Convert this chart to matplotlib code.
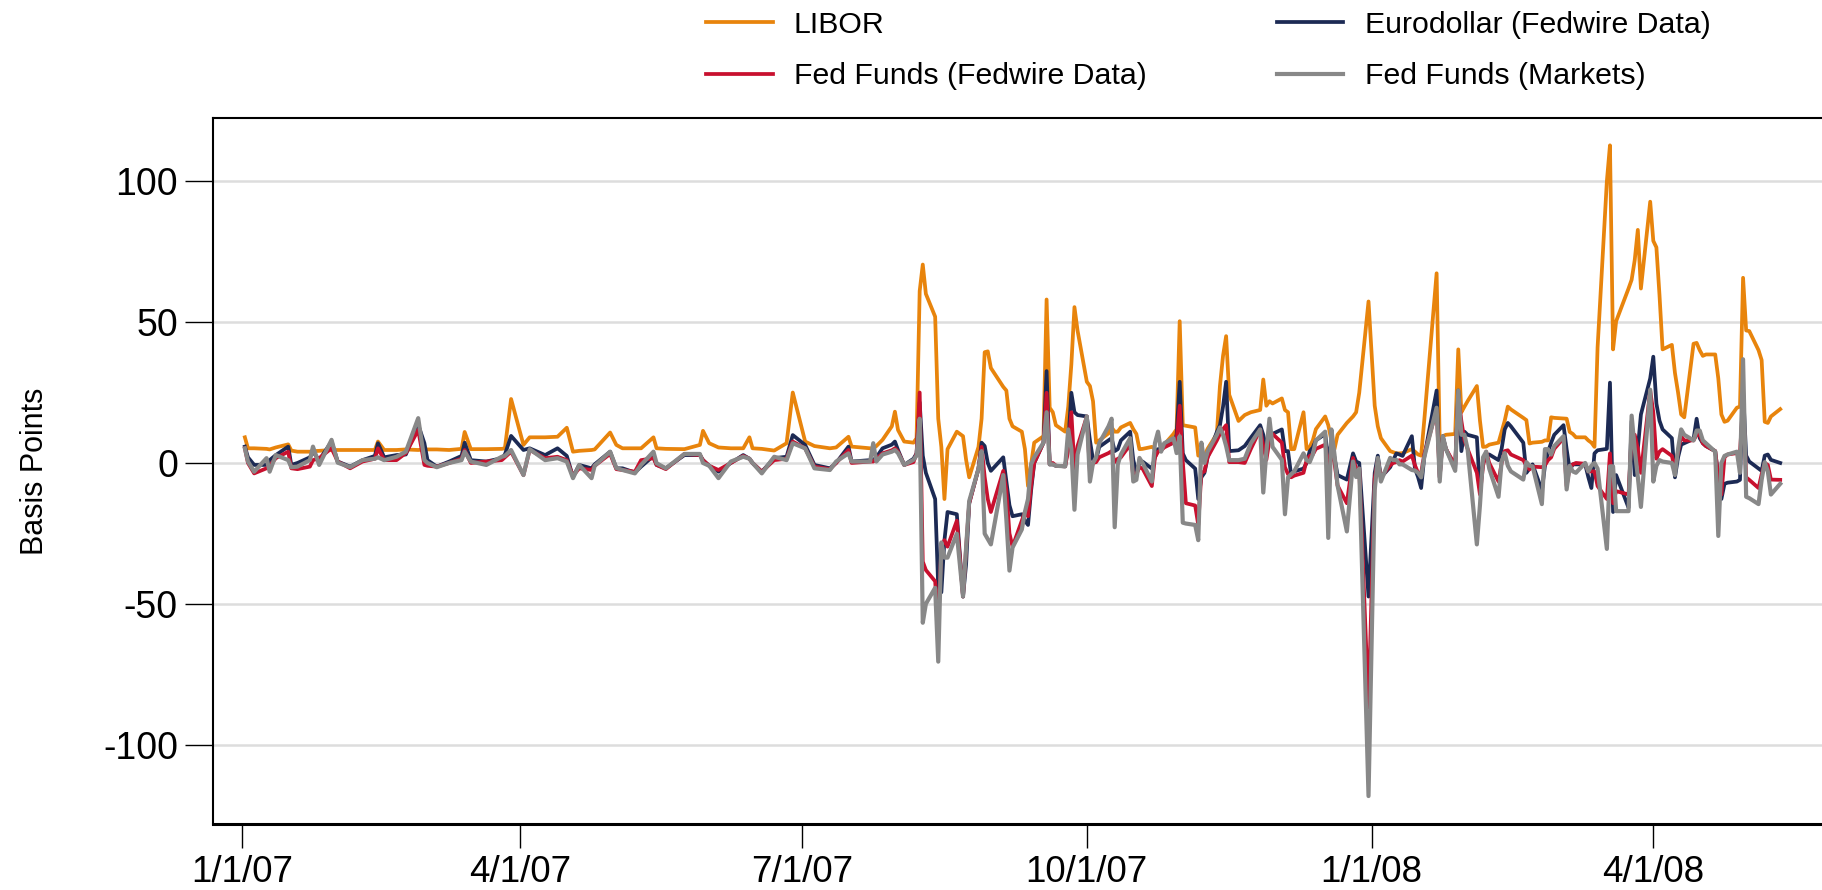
import pandas as pd
import matplotlib.pyplot as plt

plt.rcParams['font.family'] = ['Liberation Sans', 'DejaVu Sans']
plt.rcParams['axes.unicode_minus'] = False

# spreads vs. target rate, basis points
dates = [
    '2007-01-02', '2007-01-03', '2007-01-05', '2007-01-09', '2007-01-10', '2007-01-12',
    '2007-01-16', '2007-01-17', '2007-01-19', '2007-01-23', '2007-01-24', '2007-01-26',
    '2007-01-30', '2007-02-01', '2007-02-05', '2007-02-09', '2007-02-13', '2007-02-14',
    '2007-02-16', '2007-02-20', '2007-02-23', '2007-02-27', '2007-03-01', '2007-03-02',
    '2007-03-05', '2007-03-09', '2007-03-13', '2007-03-14', '2007-03-16', '2007-03-21',
    '2007-03-26', '2007-03-27', '2007-03-29', '2007-04-02', '2007-04-04', '2007-04-09',
    '2007-04-13', '2007-04-16', '2007-04-18', '2007-04-20', '2007-04-24', '2007-04-25',
    '2007-04-30', '2007-05-02', '2007-05-04', '2007-05-08', '2007-05-10', '2007-05-14',
    '2007-05-15', '2007-05-18', '2007-05-24', '2007-05-29', '2007-05-30', '2007-06-01',
    '2007-06-04', '2007-06-08', '2007-06-12', '2007-06-14', '2007-06-15', '2007-06-18',
    '2007-06-22', '2007-06-26', '2007-06-28', '2007-07-02', '2007-07-05', '2007-07-10',
    '2007-07-12', '2007-07-16', '2007-07-17', '2007-07-23', '2007-07-24', '2007-07-25',
    '2007-07-27', '2007-07-30', '2007-07-31', '2007-08-01', '2007-08-03', '2007-08-06',
    '2007-08-07', '2007-08-08', '2007-08-09', '2007-08-10', '2007-08-13', '2007-08-14',
    '2007-08-15', '2007-08-16', '2007-08-17', '2007-08-20', '2007-08-22', '2007-08-23',
    '2007-08-24', '2007-08-27', '2007-08-28', '2007-08-29', '2007-08-30', '2007-08-31',
    '2007-09-04', '2007-09-05', '2007-09-06', '2007-09-07', '2007-09-10', '2007-09-11',
    '2007-09-12', '2007-09-13', '2007-09-14', '2007-09-17', '2007-09-18', '2007-09-19',
    '2007-09-20', '2007-09-21', '2007-09-24', '2007-09-25', '2007-09-26', '2007-09-27',
    '2007-09-28', '2007-10-01', '2007-10-02', '2007-10-03', '2007-10-04', '2007-10-05',
    '2007-10-08', '2007-10-09', '2007-10-10', '2007-10-11', '2007-10-12', '2007-10-15',
    '2007-10-16', '2007-10-17', '2007-10-18', '2007-10-19', '2007-10-22', '2007-10-23',
    '2007-10-24', '2007-10-25', '2007-10-26', '2007-10-29', '2007-10-30', '2007-10-31',
    '2007-11-01', '2007-11-02', '2007-11-05', '2007-11-06', '2007-11-07', '2007-11-08',
    '2007-11-09', '2007-11-12', '2007-11-13', '2007-11-14', '2007-11-15', '2007-11-16',
    '2007-11-19', '2007-11-21', '2007-11-23', '2007-11-26', '2007-11-27', '2007-11-28',
    '2007-11-29', '2007-11-30', '2007-12-03', '2007-12-04', '2007-12-05', '2007-12-06',
    '2007-12-07', '2007-12-10', '2007-12-11', '2007-12-12', '2007-12-13', '2007-12-14',
    '2007-12-17', '2007-12-18', '2007-12-19', '2007-12-20', '2007-12-21', '2007-12-24',
    '2007-12-26', '2007-12-27', '2007-12-28', '2007-12-31', '2008-01-02', '2008-01-03',
    '2008-01-04', '2008-01-07', '2008-01-08', '2008-01-09', '2008-01-10', '2008-01-11',
    '2008-01-14', '2008-01-15', '2008-01-16', '2008-01-17', '2008-01-18', '2008-01-22',
    '2008-01-23', '2008-01-24', '2008-01-25', '2008-01-28', '2008-01-29', '2008-01-30',
    '2008-01-31', '2008-02-01', '2008-02-04', '2008-02-05', '2008-02-06', '2008-02-07',
    '2008-02-08', '2008-02-11', '2008-02-12', '2008-02-13', '2008-02-14', '2008-02-15',
    '2008-02-19', '2008-02-20', '2008-02-21', '2008-02-22', '2008-02-25', '2008-02-26',
    '2008-02-27', '2008-02-28', '2008-02-29', '2008-03-03', '2008-03-04', '2008-03-05',
    '2008-03-06', '2008-03-07', '2008-03-10', '2008-03-11', '2008-03-12', '2008-03-13',
    '2008-03-14', '2008-03-17', '2008-03-18', '2008-03-19', '2008-03-20', '2008-03-24',
    '2008-03-25', '2008-03-26', '2008-03-27', '2008-03-28', '2008-03-31', '2008-04-01',
    '2008-04-02', '2008-04-03', '2008-04-04', '2008-04-07', '2008-04-08', '2008-04-09',
    '2008-04-10', '2008-04-11', '2008-04-14', '2008-04-15', '2008-04-16', '2008-04-17',
    '2008-04-18', '2008-04-21', '2008-04-22', '2008-04-23', '2008-04-24', '2008-04-25',
    '2008-04-28', '2008-04-29', '2008-04-30', '2008-05-01', '2008-05-02', '2008-05-05',
    '2008-05-06', '2008-05-07', '2008-05-08', '2008-05-09', '2008-05-12',
]

libor = [
    9.1, 5.2, 5.2, 5.0, 4.8, 5.5,
    6.6, 4.4, 4.0, 4.0, 4.2, 4.3,
    4.6, 4.6, 4.6, 4.6, 4.6, 7.6,
    4.6, 4.6, 4.8, 4.6, 4.8, 4.8,
    4.8, 4.6, 5.0, 11.0, 4.9, 4.9,
    5.0, 5.2, 22.7, 6.4, 9.1, 9.1,
    9.3, 12.5, 4.0, 4.3, 4.6, 4.8,
    10.8, 6.4, 5.2, 5.2, 5.2, 9.1,
    5.2, 5.0, 4.9, 6.4, 11.4, 7.0,
    5.5, 5.2, 5.2, 9.1, 5.2, 5.0,
    4.4, 7.0, 25.0, 7.6, 6.0, 5.2,
    5.5, 9.3, 5.8, 5.2, 5.2, 6.0,
    8.2, 13.0, 18.2, 11.7, 7.6, 7.2,
    8.8, 61.0, 70.4, 60.0, 51.9, 15.7,
    5.7, -12.8, 4.9, 11.1, 9.5, 1.1,
    -5.1, 5.7, 15.7, 39.3, 39.6, 33.7,
    27.0, 25.7, 15.7, 13.0, 11.1, 4.9,
    -8.2, -0.5, 7.2, 9.5, 58.0, 19.6,
    18.0, 13.4, 11.1, 20.0, 35.0, 55.3,
    47.0, 28.8, 27.3, 21.9, 7.2, 8.0,
    10.5, 12.6, 11.1, 11.1, 12.6, 14.2,
    12.0, 10.3, 4.9, 5.0, 5.7, 5.0,
    4.2, 5.0, 6.5, 10.3, 12.0, 50.3,
    13.4, 13.2, 12.6, 2.6, 2.6, 2.6,
    5.0, 10.3, 27.3, 38.0, 45.0, 24.2,
    14.9, 17.0, 18.0, 18.8, 29.6, 20.3,
    21.9, 21.1, 22.9, 18.8, 18.0, 4.9,
    4.9, 18.0, 4.9, 5.7, 8.0, 12.0,
    16.5, 13.4, 8.0, 4.9, 10.0, 14.2,
    16.5, 18.0, 24.9, 57.3, 20.3, 13.0,
    8.8, 4.2, 3.8, 3.4, 3.4, 3.5,
    4.9, 4.0, 3.0, 2.6, 15.0, 67.3,
    7.2, 9.5, 10.0, 10.3, 40.3, 18.0,
    20.0, 21.9, 27.3, 15.0, 5.7, 5.8,
    6.5, 7.2, 11.1, 15.0, 20.0, 19.0,
    16.0, 15.2, 6.9, 7.2, 7.5, 8.0,
    8.0, 16.2, 16.0, 15.8, 15.7, 11.0,
    10.3, 9.1, 9.1, 8.0, 7.2, 5.7,
    41.0, 100.0, 112.7, 40.3, 50.3, 61.9,
    65.0, 72.0, 82.7, 61.9, 92.7, 78.8,
    76.5, 59.6, 40.3, 41.9, 31.9, 25.0,
    17.2, 16.2, 42.3, 42.6, 40.0, 38.0,
    38.5, 38.5, 30.0, 17.2, 14.6, 15.0,
    19.6, 20.0, 65.7, 47.0, 46.8, 40.0,
    36.5, 14.6, 14.2, 16.5, 19.1,
]

eurodollar = [
    5.8, 2.0, -0.7, -0.7, 1.0, 2.8,
    5.8, -0.7, 0.0, 2.0, 4.0, 1.0,
    7.6, 0.5, -1.3, 1.0, 2.5, 7.0,
    2.0, 2.8, 3.0, 13.5, 7.0, 1.0,
    -1.3, 0.5, 2.5, 7.2, 1.0, 0.5,
    1.7, 3.0, 9.6, 4.6, 5.2, 2.8,
    5.2, 2.5, -5.0, -0.7, -1.9, -0.5,
    4.0, -1.9, -1.9, -3.4, -1.3, 2.5,
    -0.7, -1.9, 2.8, 2.8, 1.0, -1.0,
    -3.1, 0.0, 2.8, 1.5, 0.0, -3.1,
    1.7, 2.2, 9.9, 6.4, -0.7, -1.9,
    0.0, 5.8, 0.5, 1.0, 1.0, 2.0,
    5.2, 6.5, 7.6, 4.6, -0.7, 1.5,
    3.4, 21.5, 2.6, -3.5, -12.8, -44.3,
    -45.9, -27.4, -17.4, -18.2, -47.4, -35.9,
    -14.3, -2.0, 7.2, 6.0, 0.0, -2.8,
    2.0, -6.6, -15.0, -18.9, -18.2, -20.5,
    -22.0, -9.7, 0.0, 7.2, 32.6, -0.5,
    -0.5, -1.0, -1.2, 7.2, 24.9, 18.0,
    17.0, 16.5, 8.0, 1.1, 1.1, 5.7,
    8.0, 8.8, 4.2, 4.9, 8.0, 11.1,
    1.1, -3.5, 0.0, 0.5, -2.0, 2.0,
    4.9, 5.0, 6.0, 7.2, 10.0, 28.8,
    3.4, 1.0, -2.0, -12.8, -5.1, -3.5,
    2.0, 11.0, 13.4, 20.0, 28.8, 4.2,
    4.5, 6.0, 9.0, 13.4, 10.0, 4.9,
    8.0, 10.3, 11.9, 4.2, 4.2, -4.3,
    -3.0, -2.0, 0.0, 4.2, 5.5, 8.0,
    10.3, 1.0, 7.2, 2.0, -4.3, -5.9,
    3.4, 0.5, 0.0, -47.4, -3.5, 2.6,
    -5.1, -1.5, 1.0, 3.4, 3.0, 2.5,
    9.5, -2.0, -5.0, -8.9, 2.0, 25.7,
    -5.1, 9.5, 5.0, -2.0, 25.7, 4.2,
    11.1, 10.0, 9.1, -9.7, 0.0, 2.6,
    3.0, 1.0, 5.0, 11.9, 14.2, 13.0,
    7.2, -3.5, -2.0, -0.5, -9.7, -1.0,
    4.0, 7.2, 10.0, 13.4, 4.9, -2.5,
    -0.5, -0.5, -0.5, -5.0, -8.9, 3.4,
    4.5, 5.0, 28.5, -17.4, -4.3, -15.9,
    14.9, -4.3, 5.0, 17.2, 30.0, 37.7,
    21.1, 15.0, 11.9, 8.8, -5.1, 2.0,
    6.5, 7.0, 8.5, 15.7, 8.8, 7.0,
    6.0, 4.2, -5.0, -12.8, -7.4, -7.0,
    -6.6, -6.0, 25.7, 2.6, 0.5, -2.0,
    -2.8, 2.6, 3.0, 1.1, 0.0,
]

ff_fedwire = [
    5.2, 0.0, -3.7, -1.9, -1.0, 1.7,
    4.0, -1.9, -2.2, -1.3, 1.0, 1.7,
    5.2, 0.5, -1.9, 0.5, 1.5, 5.2,
    1.0, 1.0, 3.5, 11.7, -0.7, -1.0,
    -1.3, 0.0, 1.5, 4.6, 0.0, 0.5,
    1.0, 2.0, 4.0, -4.3, 4.6, 1.7,
    2.2, 1.0, -4.6, -1.9, -2.5, -1.0,
    3.2, -2.2, -2.5, -3.1, 1.0, 1.7,
    -0.7, -2.2, 3.2, 2.8, 1.0, -1.0,
    -2.5, 0.0, 2.5, 1.5, 0.0, -3.1,
    1.0, 1.5, 7.6, 5.2, -1.3, -2.2,
    0.0, 4.6, 0.0, 0.5, 0.5, 1.5,
    3.4, 4.5, 5.2, 4.0, -0.7, 0.3,
    3.4, 25.0, -35.0, -38.0, -42.0, -57.4,
    -29.7, -27.4, -29.7, -20.5, -47.4, -30.0,
    -14.3, -2.0, 5.7, -5.0, -12.8, -17.4,
    -2.8, -9.7, -25.0, -29.7, -20.5, -17.4,
    -18.9, -8.2, 0.0, 7.2, 24.9, -0.5,
    0.0, -1.0, -1.2, 4.6, 18.0, -2.0,
    6.0, 16.5, -3.5, 0.0, 0.3, 2.0,
    3.5, 4.2, 0.3, 1.5, 2.0, 6.5,
    -5.1, -4.0, -1.5, -2.0, -8.2, 2.0,
    4.0, 4.5, 5.5, 7.2, 8.0, 20.3,
    0.5, -14.3, -15.1, -22.0, -3.5, -3.0,
    2.0, 8.0, 10.3, 12.0, 13.4, 0.3,
    0.3, 0.0, 5.0, 11.9, 6.0, 1.1,
    8.0, 10.3, 7.2, -1.5, -4.0, -5.1,
    -4.5, -3.5, 1.0, 2.5, 3.0, 5.0,
    6.5, -1.5, 4.5, 0.0, -8.0, -14.3,
    1.8, -2.0, -2.0, -86.7, -5.5, 1.0,
    -5.1, -0.8, 0.0, 0.3, 1.0, 0.5,
    2.6, -0.8, -3.5, -3.5, 3.0, 18.8,
    -5.1, 8.8, 5.0, -0.8, 24.2, 14.9,
    8.0, 5.0, -3.5, -11.2, -1.0, 4.0,
    0.0, -6.6, 0.0, 4.2, 4.5, 3.0,
    1.0, -0.8, -2.3, -1.3, -1.5, -0.8,
    1.0, 2.0, 5.0, 8.8, -8.2, -1.5,
    -0.5, 0.0, -0.3, -3.0, -3.0, -3.0,
    -8.2, -12.8, 3.4, -14.3, -10.0, -11.2,
    10.3, 10.0, 5.0, -3.5, 25.7, 18.0,
    1.5, 4.0, 4.9, 2.5, -2.0, 4.0,
    9.5, 8.0, 8.0, 10.0, 10.0, 7.0,
    6.0, 4.2, -5.0, -11.2, 2.0, 3.0,
    3.5, 3.5, 21.9, -5.1, -6.0, -8.9,
    -4.0, 0.0, -0.7, -5.9, -6.0,
]

ff_markets = [
    5.2, 0.5, -3.1, 1.7, -3.1, 2.8,
    1.0, -1.5, -1.3, 1.0, 5.8, -0.7,
    8.2, 0.1, -1.5, 1.0, 1.5, 2.0,
    1.0, 2.2, 4.0, 15.9, 1.0, 0.0,
    -1.5, 0.0, 1.0, 4.0, 0.5, -0.7,
    2.2, 2.5, 4.6, -4.3, 4.9, 1.0,
    1.7, 0.5, -5.4, -0.7, -5.4, -1.0,
    4.0, -1.8, -2.5, -3.7, -0.7, 4.0,
    -0.1, -1.9, 3.2, 3.2, 0.0, -1.0,
    -5.4, 0.5, 2.2, 1.5, 0.0, -3.7,
    2.2, 1.0, 7.0, 5.2, -1.9, -2.5,
    0.5, 3.4, 0.5, 0.5, 7.0, 0.5,
    3.0, 4.0, 4.6, 3.5, -0.7, 1.1,
    2.6, 15.7, -56.7, -50.0, -44.3, -70.5,
    -28.2, -33.6, -33.6, -25.1, -47.4, -30.0,
    -13.5, -2.0, 4.2, -25.1, -27.0, -28.9,
    -4.3, -20.0, -38.2, -30.0, -23.6, -17.4,
    -12.8, -0.5, 2.0, 7.2, 18.0, -0.5,
    -0.5, -1.0, -1.2, 11.9, 5.0, -16.6,
    3.0, 16.5, -6.6, 0.0, 2.0, 7.0,
    13.0, 15.7, -22.8, -0.5, 3.0, 8.8,
    -6.6, -6.0, 1.8, 0.0, -6.6, 7.0,
    11.1, 4.0, 7.0, 8.8, 3.5, 9.5,
    -21.2, -21.5, -22.0, -27.4, 7.2, 0.0,
    4.0, 10.0, 12.6, 10.0, 6.0, 1.0,
    1.0, 1.5, 7.0, 11.9, -10.5, 4.0,
    15.7, 5.7, 1.1, -18.2, -5.1, -4.0,
    -3.0, 3.4, 1.0, 0.3, 3.0, 8.0,
    11.1, -26.6, 11.9, 3.0, -8.0, -24.3,
    0.5, -5.0, -2.0, -118.2, -9.7, 1.8,
    -6.6, 1.8, 1.0, 1.1, -0.5, -0.5,
    -2.5, -2.7, -3.5, -5.1, 2.0, 19.6,
    -6.6, 9.5, 5.0, -2.8, 25.7, 10.0,
    10.0, 5.0, -28.9, -15.0, 2.0, 4.0,
    -2.0, -12.0, 0.5, 3.5, -1.0, -3.0,
    -5.9, 0.3, -1.0, -1.2, -14.6, 4.9,
    4.9, 3.0, 6.0, 9.5, -9.4, -1.0,
    -3.0, -3.5, 0.0, -3.0, -1.0, 0.0,
    -2.0, -30.5, -1.2, -1.2, -17.1, -17.1,
    16.8, 5.0, -5.0, -15.6, 26.0, -6.6,
    -1.0, 1.0, 0.5, 0.0, -4.3, 5.0,
    11.9, 10.0, 8.0, 11.5, 11.5, 8.0,
    7.0, 4.0, -25.9, 0.0, 2.5, 3.0,
    4.0, -3.5, 36.8, -12.0, -12.5, -14.6,
    -6.0, 0.3, -3.0, -11.2, -7.4,
]

tick_dates = ['2007-01-01', '2007-04-01', '2007-07-01', '2007-10-01', '2008-01-01', '2008-04-01']
tick_labels = ['1/1/07', '4/1/07', '7/1/07', '10/1/07', '1/1/08', '4/1/08']

df = pd.DataFrame({'LIBOR': libor, 'Eurodollar': eurodollar,
                   'FF Fedwire': ff_fedwire, 'FF Markets': ff_markets},
                  index=pd.to_datetime(dates))

fig = plt.figure(figsize=(18.22, 8.90), dpi=100)
ax = fig.add_axes([0.1167, 0.0742, 0.8833, 0.7932])

ax.grid(axis='y', color='#dddddd', linewidth=1.8, zorder=0)
ax.set_axisbelow(True)

l1, = ax.plot(df.index, df['LIBOR'], color='#e8840c', lw=2.7, label='LIBOR', zorder=3)
l2, = ax.plot(df.index, df['Eurodollar'], color='#1c2a54', lw=2.7, label='Eurodollar (Fedwire Data)', zorder=4)
l3, = ax.plot(df.index, df['FF Fedwire'], color='#c8102e', lw=2.7, label='Fed Funds (Fedwire Data)', zorder=5)
l4, = ax.plot(df.index, df['FF Markets'], color='#888888', lw=3.0, label='Fed Funds (Markets)', zorder=6)

ax.set_xlim(pd.Timestamp('2006-12-22 14:00'), pd.Timestamp('2008-05-25 12:00'))
ax.set_ylim(-128.1, 122.4)
ax.set_yticks([-100, -50, 0, 50, 100])
ax.set_xticks(pd.to_datetime(tick_dates))
ax.set_xticklabels(tick_labels)

ax.tick_params(axis='y', labelsize=27, length=20, width=1, pad=5, direction='out')
ax.tick_params(axis='x', labelsize=26.5, length=17, width=1, pad=5, direction='out')

ax.spines['right'].set_visible(False)
for s in ['left', 'top']:
    ax.spines[s].set_linewidth(1.5)
ax.spines['bottom'].set_linewidth(2.2)

ax.set_ylabel('Basis Points', fontsize=22)
ax.yaxis.set_label_coords(-0.101, 0.5)

fig.legend([l1, l3, l2, l4], [l1.get_label(), l3.get_label(), l2.get_label(), l4.get_label()],
           loc='upper left', bbox_to_anchor=(0.3875, 0.988), ncol=2, frameon=False,
           fontsize=21.8, handlelength=2.2, handletextpad=0.7, columnspacing=4.3,
           labelspacing=0.78, borderpad=0, borderaxespad=0)

fig.savefig('out.png', dpi=100)
